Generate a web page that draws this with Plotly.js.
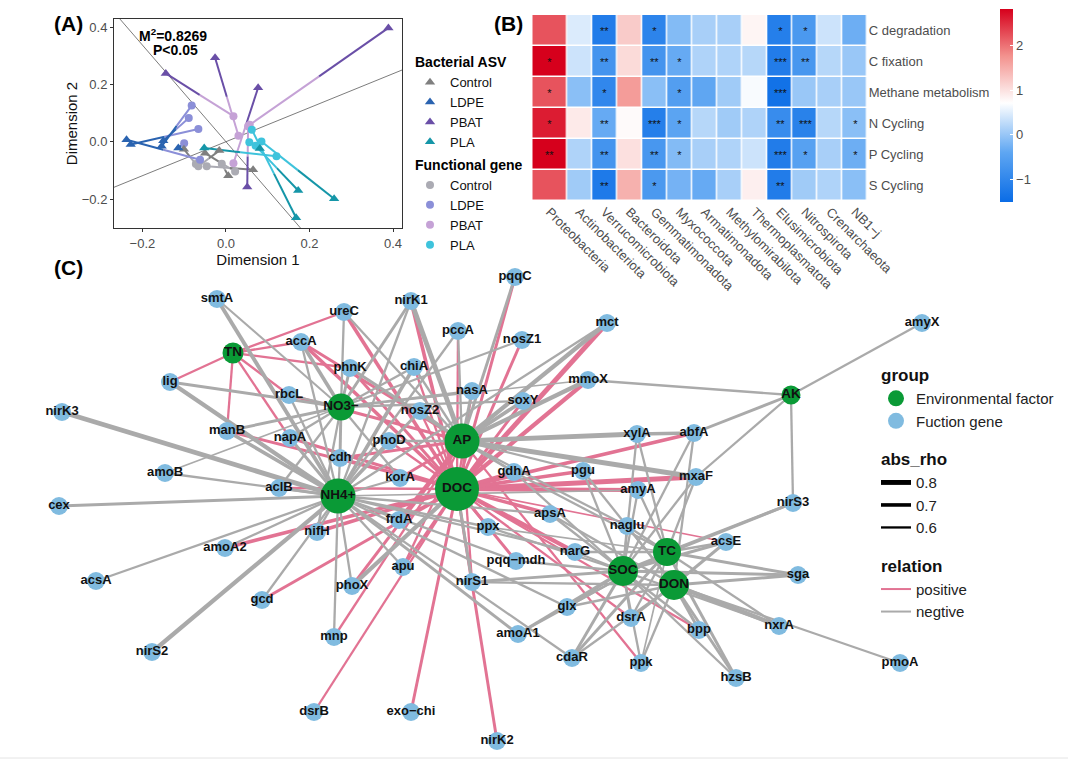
<!DOCTYPE html>
<html><head><meta charset="utf-8">
<script src="https://cdn.plot.ly/plotly-3.0.1.min.js"></script>
<style>html,body{margin:0;padding:0;background:#fff}#chart{width:1068px;height:760px}</style>
</head><body><div id="chart"></div>
<script>
// ================= Panel A : Procrustes data =================
const treatments = ['Control', 'LDPE', 'PBAT', 'PLA'];
// Bacterial ASV (triangles)
const controlAsvX = [-0.1006, -0.016, 0.0056, 0.065, -0.05];
const controlAsvY = [-0.026, -0.031, -0.119, -0.098, -0.040];
const ldpeAsvX = [-0.238, -0.228, -0.154, -0.150, -0.114];
const ldpeAsvY = [0.007, -0.010, -0.016, 0.003, -0.022];
const pbatAsvX = [0.389, -0.144, -0.026, 0.077, 0.051];
const pbatAsvY = [0.397, 0.238, 0.293, 0.188, -0.158];
const plaAsvX = [-0.052, 0.081, 0.173, 0.259, 0.168];
const plaAsvY = [-0.022, -0.024, -0.170, -0.199, -0.265];
// Functional gene (circles)
const controlGeneX = [-0.072, -0.066, -0.010, -0.046, 0.022];
const controlGeneY = [-0.078, -0.086, -0.077, -0.086, -0.104];
const ldpeGeneX = [-0.062, -0.066, -0.082, -0.089, -0.100];
const ldpeGeneY = [-0.063, 0.044, 0.126, 0.083, -0.005];
const pbatGeneX = [0.057, 0.018, 0.030, 0.018, 0.053];
const pbatGeneY = [0.059, 0.089, 0.021, -0.075, 0.054];
const plaGeneX = [0.121, 0.056, 0.071, 0.085, 0.062];
const plaGeneY = [-0.051, -0.002, -0.014, 0.001, 0.042];
const rotationSlopes = [-1.686, 0.593];
const m2Text = 'M<sup>2</sup>=0.8269';
const pText = 'P&lt;0.05';

// ================= Panel B : heatmap data =================
const phyla = ['Proteobacteria', 'Actinobacteriota', 'Verrucomicrobiota', 'Bacteroidota', 'Gemmatimonadota',
  'Myxococcota', 'Armatimonadota', 'Methylomirabilota', 'Thermoplasmatota', 'Elusimicrobiota',
  'Nitrospirota', 'Crenarchaeota', 'NB1−j'];
const functionsList = ['C degradation', 'C fixation', 'Methane metabolism', 'N Cycling', 'P Cycling', 'S Cycling'];
const cDegradation = [2.2, 0.45, -1.2, 1.2, -1.05, -0.15, 0.1, 0.1, 0.8, -1.15, -0.65, 0.35, -0.3];
const cFixation = [2.8, 0.35, -0.75, 1.05, -0.75, -0.35, 0.15, 0.15, 0.2, -1.2, -0.7, 0.2, 0.0];
const methaneMetabolism = [2.2, -0.1, -1.0, 1.65, -0.1, -0.55, -0.4, 0.05, 0.65, -1.4, 0.0, 0.1, 0.0];
const nCycling = [2.6, 0.9, -0.35, 0.75, -1.15, -0.45, 0.2, 0.05, 0.15, -0.9, -1.1, 0.2, -0.1];
const pCycling = [2.8, 0.15, -0.75, 1.0, -0.7, -0.15, 0.1, 0.15, 0.35, -1.2, -0.5, 0.1, -0.3];
const sCycling = [2.2, 0.05, -1.25, 1.45, -0.65, -0.25, -0.35, 0.1, 0.85, -1.2, 0.05, 0.15, -0.1];
const starsCDeg = ['', '', '**', '', '*', '', '', '', '', '*', '*', '', ''];
const starsCFix = ['*', '', '**', '', '**', '*', '', '', '', '***', '**', '', ''];
const starsMeth = ['*', '', '*', '', '', '*', '', '', '', '***', '', '', ''];
const starsN = ['*', '', '**', '', '***', '*', '', '', '', '**', '***', '', '*'];
const starsP = ['**', '', '**', '', '**', '*', '', '', '', '***', '*', '', '*'];
const starsS = ['', '', '**', '', '*', '', '', '', '', '**', '', '', ''];
const colorTicks = [-1, 0, 1, 2];

// ================= Panel C : network data =================
const envNames = ['TN', 'NO3−', 'AP', 'DOC', 'NH4+', 'AK', 'SOC', 'TC', 'DON'];
const envLayoutX = [233, 341, 462, 457, 338, 791, 623, 667, 674];
const envLayoutY = [353, 407, 441, 489, 496, 395, 571, 552, 585];
const geneNames = ['smtA', 'ureC', 'nirK1', 'pqqC', 'pccA', 'nosZ1', 'mct', 'amyX', 'accA', 'lig', 'phnK', 'chiA',
  'nasA', 'mmoX', 'soxY', 'nirK3', 'rbcL', 'nosZ2', 'manB', 'napA', 'phoD', 'xylA', 'abfA', 'cdh', 'korA',
  'gdhA', 'pgu', 'mxaF', 'amoB', 'aclB', 'amyA', 'nirS3', 'cex', 'frdA', 'ppx', 'apsA', 'naglu', 'nifH',
  'acsE', 'pqq−mdh', 'narG', 'amoA2', 'apu', 'nirS1', 'sga', 'acsA', 'gcd', 'phoX', 'glx', 'dsrA', 'bpp',
  'nxrA', 'amoA1', 'mnp', 'cdaR', 'ppk', 'nirS2', 'hzsB', 'pmoA', 'dsrB', 'exo−chi', 'nirK2'];
const geneLayoutX = [217, 344, 411, 515, 458, 522, 607, 922, 301, 170, 350, 414,
  472, 588, 523, 62, 289, 420, 227, 290, 389, 637, 694, 340, 400,
  514, 583, 696, 165, 279, 638, 793, 59, 399, 488, 550, 627, 317,
  726, 516, 575, 225, 403, 472, 798, 96, 262, 352, 567, 631, 699,
  779, 518, 334, 572, 641, 152, 736, 900, 314, 411, 497];
const geneLayoutY = [299, 312, 301, 277, 331, 340, 323, 323, 342, 382, 368, 367,
  391, 380, 401, 412, 395, 411, 431, 438, 441, 434, 433, 458, 478,
  472, 471, 477, 473, 488, 490, 503, 506, 520, 527, 514, 526, 532,
  542, 561, 552, 548, 567, 582, 575, 581, 600, 586, 607, 618, 630,
  626, 634, 637, 658, 663, 652, 678, 663, 712, 712, 741];

const edgeList = [
  ['TN','ureC',0.6],['TN','accA',0.6],['TN','lig',0.6],['TN','manB',0.6],['TN','phnK',0.6],['TN','rbcL',0.6],['TN','napA',0.6],
  ['smtA','NO3−',-0.58],['smtA','NH4+',-0.72],
  ['ureC','NO3−',-0.6],['ureC','DOC',0.7],['ureC','AP',-0.6],
  ['nirK1','NO3−',-0.65],['nirK1','NH4+',-0.6],['nirK1','AP',-0.8],['nirK1','DOC',0.7],
  ['pqqC','AP',-0.65],['pqqC','DOC',0.65],
  ['pccA','NH4+',-0.6],['pccA','DOC',0.6],['pccA','AP',-0.6],
  ['nosZ1','DOC',0.65],['nosZ1','NO3−',-0.58],
  ['mct','AP',-0.75],['mct','DOC',0.8],['mct','NH4+',-0.6],
  ['amyX','AK',-0.6],
  ['accA','NO3−',-0.7],['accA','NH4+',-0.6],['accA','DOC',0.7],['accA','AP',0.65],
  ['lig','NO3−',-0.65],['lig','NH4+',-0.75],
  ['phnK','NO3−',-0.65],['phnK','AP',-0.65],['phnK','DOC',0.65],
  ['chiA','NO3−',-0.6],['chiA','NH4+',-0.7],['chiA','DOC',0.6],['chiA','AP',-0.6],
  ['nasA','AP',-0.65],['nasA','NO3−',-0.6],['nasA','DOC',0.6],
  ['mmoX','AK',-0.6],['mmoX','AP',-0.75],['mmoX','DOC',0.75],['mmoX','NO3−',-0.55],
  ['soxY','AP',-0.7],['soxY','NO3−',-0.6],['soxY','DOC',0.65],
  ['nirK3','NH4+',-0.8],
  ['rbcL','NO3−',-0.6],['rbcL','AP',0.65],['rbcL','NH4+',-0.6],
  ['nosZ2','NH4+',-0.65],['nosZ2','AP',-0.6],['nosZ2','DOC',0.6],
  ['manB','NO3−',-0.65],['manB','NH4+',-0.7],['manB','DOC',0.65],
  ['napA','NO3−',-0.6],['napA','NH4+',-0.65],['napA','DOC',0.65],
  ['phoD','AP',-0.6],['phoD','NH4+',-0.65],['phoD','DOC',0.6],
  ['xylA','AP',-0.8],['xylA','abfA',-0.7],['xylA','SOC',-0.6],['xylA','TC',-0.6],
  ['abfA','DOC',0.7],['abfA','AK',-0.65],['abfA','SOC',-0.6],['abfA','DON',-0.6],
  ['cdh','NO3−',-0.65],['cdh','NH4+',-0.6],['cdh','AP',0.65],['cdh','DOC',0.6],
  ['korA','NO3−',-0.6],['korA','AP',0.65],['korA','NH4+',-0.6],
  ['gdhA','AP',-0.65],['gdhA','DOC',0.7],['gdhA','SOC',-0.6],['gdhA','TC',-0.6],
  ['pgu','AP',-0.6],['pgu','DOC',0.7],['pgu','SOC',-0.6],['pgu','DON',-0.6],
  ['mxaF','AP',-0.8],['mxaF','DOC',0.8],['mxaF','AK',-0.6],['mxaF','SOC',-0.6],['mxaF','TC',-0.6],
  ['amoB','NO3−',-0.55],['amoB','NH4+',-0.6],
  ['aclB','NO3−',-0.6],['aclB','NH4+',-0.65],['aclB','DOC',0.6],
  ['amyA','DOC',0.75],['amyA','SOC',-0.6],['amyA','TC',-0.6],['amyA','NH4+',-0.55],
  ['nirS3','AK',-0.6],['nirS3','SOC',-0.65],['nirS3','TC',-0.65],
  ['cex','NH4+',-0.65],
  ['frdA','NH4+',-0.6],['frdA','AP',0.7],['frdA','DOC',0.65],
  ['ppx','DOC',0.65],['ppx','NH4+',-0.6],['ppx','SOC',-0.6],['ppx','TC',-0.55],
  ['apsA','DOC',0.7],['apsA','NH4+',-0.6],['apsA','SOC',-0.6],['apsA','DON',-0.6],
  ['naglu','SOC',-0.6],['naglu','TC',-0.6],['naglu','DON',-0.6],['naglu','AP',-0.6],
  ['nifH','NH4+',-0.6],['nifH','DOC',0.7],['nifH','NO3−',-0.6],
  ['acsE','SOC',-0.65],['acsE','TC',-0.6],['acsE','DON',-0.65],['acsE','DOC',0.55],
  ['pqq−mdh','DOC',0.65],['pqq−mdh','NH4+',-0.6],['pqq−mdh','SOC',-0.6],
  ['narG','DOC',0.75],['narG','SOC',-0.6],['narG','TC',-0.6],['narG','NH4+',-0.6],
  ['amoA2','NH4+',-0.6],['amoA2','DOC',0.7],
  ['apu','NH4+',-0.6],['apu','DOC',0.65],['apu','AP',0.6],
  ['nirS1','DOC',-0.65],['nirS1','SOC',-0.65],['nirS1','DON',-0.6],['nirS1','AP',0.6],
  ['sga','SOC',-0.65],['sga','TC',-0.65],['sga','DON',-0.65],
  ['acsA','NH4+',-0.6],
  ['gcd','NH4+',-0.6],['gcd','DOC',0.65],
  ['phoX','NH4+',-0.6],['phoX','DOC',-0.75],['phoX','AP',0.65],
  ['glx','SOC',-0.65],['glx','TC',-0.6],['glx','DON',-0.6],['glx','NH4+',-0.6],
  ['dsrA','SOC',-0.6],['dsrA','TC',-0.6],['dsrA','DON',-0.6],['dsrA','DOC',0.6],
  ['bpp','SOC',-0.6],['bpp','DON',-0.65],['bpp','DOC',0.6],
  ['nxrA','SOC',-0.6],['nxrA','TC',-0.6],['nxrA','DON',-0.75],
  ['pmoA','DON',-0.6],
  ['amoA1','NH4+',-0.65],['amoA1','SOC',-0.65],['amoA1','TC',-0.6],
  ['mnp','NH4+',-0.6],['mnp','AP',0.6],
  ['cdaR','SOC',-0.65],['cdaR','TC',-0.65],['cdaR','DON',-0.6],['cdaR','NH4+',-0.6],
  ['ppk','SOC',-0.6],['ppk','DON',-0.6],['ppk','TC',-0.55],['ppk','AP',0.6],
  ['nirS2','NH4+',-0.75],
  ['hzsB','SOC',-0.6],['hzsB','DON',-0.65],['hzsB','TC',-0.65],
  ['dsrB','DOC',0.6],['exo−chi','DOC',0.65],['nirK2','DOC',0.65]
];
const edgeSource = edgeList.map(e => e[0]);
const edgeTarget = edgeList.map(e => e[1]);
const edgeRho = edgeList.map(e => e[2]);
const rhoBreaks = [0.8, 0.7, 0.6];

// ================= styles =================
const FONT = 'Arial, "Liberation Sans", Helvetica, sans-serif';
const W = 1068, H = 760;
const px = v => v / W, py = v => 1 - v / H;
const triColors = ['#7f7f7f', '#2a63b0', '#6a4fa7', '#1596a8'];
const cirColors = ['#ababb3', '#8b8fd8', '#c5a2d6', '#3ec3dc'];
const POS = '#e27393', NEG = '#aaaaaa', GREEN = '#0a9a36', BLUE = '#80bbe0';
const rhoWidth = a => 1 + (a - 0.5) * 13;
const envSize = [21, 27, 35, 44, 35, 19, 30, 28, 30];
const geneSize = 18;

const traces = [];

// ---- Panel A ----
const asvX = [controlAsvX, ldpeAsvX, pbatAsvX, plaAsvX];
const asvY = [controlAsvY, ldpeAsvY, pbatAsvY, plaAsvY];
const genX = [controlGeneX, ldpeGeneX, pbatGeneX, plaGeneX];
const genY = [controlGeneY, ldpeGeneY, pbatGeneY, plaGeneY];

const lineX = [-0.4, 0.5];
rotationSlopes.forEach(s => {
  traces.push({x: lineX, y: lineX.map(v => v * s), mode: 'lines', xaxis: 'x', yaxis: 'y',
    line: {color: '#5a5a5a', width: 0.8}, showlegend: false, hoverinfo: 'skip'});
});
treatments.forEach((t, g) => {
  const lx = [], ly = [], dx = [], dy = [];
  asvX[g].forEach((ax, i) => {
    const ay = asvY[g][i], gx = genX[g][i], gy = genY[g][i];
    const mx = (ax + gx) / 2, my = (ay + gy) / 2;
    lx.push(gx, mx, null); ly.push(gy, my, null);
    dx.push(mx, ax, null); dy.push(my, ay, null);
  });
  traces.push({x: lx, y: ly, mode: 'lines', xaxis: 'x', yaxis: 'y', line: {color: cirColors[g], width: 2},
    showlegend: false, hoverinfo: 'skip'});
  traces.push({x: dx, y: dy, mode: 'lines', xaxis: 'x', yaxis: 'y', line: {color: triColors[g], width: 2},
    showlegend: false, hoverinfo: 'skip'});
});
treatments.forEach((t, g) => {
  traces.push({x: genX[g], y: genY[g], mode: 'markers', xaxis: 'x', yaxis: 'y', name: t,
    marker: {symbol: 'circle', size: 8, color: cirColors[g], opacity: 1, line: {width: 0}},
    legend: 'legend', legendgroup: 'gene', legendrank: 200 + g,
    legendgrouptitle: {text: 'Functional gene', font: {size: 14, weight: 700, color: '#000', family: FONT}}});
});
treatments.forEach((t, g) => {
  traces.push({x: asvX[g], y: asvY[g], mode: 'markers', xaxis: 'x', yaxis: 'y', name: t,
    marker: {symbol: 'triangle-up', size: 9, color: triColors[g], opacity: 1, line: {width: 0}},
    legend: 'legend', legendgroup: 'asv', legendrank: 100 + g,
    legendgrouptitle: {text: 'Bacterial ASV', font: {size: 14, weight: 700, color: '#000', family: FONT}}});
});

// ---- Panel B ----
const firstColWidth = 1.38;
const colEdges = [0];
phyla.forEach((p, i) => colEdges.push(colEdges[i] + (i === 0 ? firstColWidth : 1)));
const colCenters = phyla.map((p, i) => (colEdges[i] + colEdges[i + 1]) / 2);
const zRows = [cDegradation, cFixation, methaneMetabolism, nCycling, pCycling, sCycling];
const starRows = [starsCDeg, starsCFix, starsMeth, starsN, starsP, starsS];
const zMin = -1.51, zMax = 2.8, zMid = 0.7;
const midT = (zMid - zMin) / (zMax - zMin);
traces.push({
  type: 'heatmap', x: colEdges, y: functionsList, z: zRows, text: starRows,
  texttemplate: '%{text}', textfont: {size: 11, color: '#111', family: FONT},
  xaxis: 'x2', yaxis: 'y2', zmin: zMin, zmax: zMax, xgap: 1.5, ygap: 1.5,
  colorscale: [[0, '#0a6ce6'], [midT * 0.5, '#5ea6f2'], [midT, '#ffffff'], [midT + (1 - midT) * 0.5, '#f3928e'], [1, '#d6001c']],
  hoverinfo: 'skip',
  colorbar: {x: px(1000), xanchor: 'left', y: py(106), yanchor: 'middle', len: 193, lenmode: 'pixels',
    thickness: 13, outlinewidth: 0, xpad: 0, ypad: 0, tickvals: colorTicks, ticktext: colorTicks.map(v => v < 0 ? '−' + (-v) : String(v)),
    ticks: 'inside', ticklen: 3, tickcolor: '#ffffff', tickfont: {size: 13, color: '#4d4d4d', family: FONT}}
});

// ---- Panel C ----
const nodePos = {};
envNames.forEach((n, i) => nodePos[n] = [envLayoutX[i], envLayoutY[i]]);
geneNames.forEach((n, i) => nodePos[n] = [geneLayoutX[i], geneLayoutY[i]]);
const buckets = {};
edgeSource.forEach((s, i) => {
  const r = edgeRho[i];
  const key = (r > 0 ? 'p' : 'n') + Math.abs(r).toFixed(2);
  if (!buckets[key]) buckets[key] = {x: [], y: [], pos: r > 0, a: Math.abs(r)};
  const a = nodePos[s], b = nodePos[edgeTarget[i]];
  buckets[key].x.push(a[0], b[0], null);
  buckets[key].y.push(a[1], b[1], null);
});
Object.keys(buckets).sort().reverse().forEach(k => {  // 'n' keys first (gray under pink)
  const bk = buckets[k];
  traces.push({x: bk.x, y: bk.y, mode: 'lines', xaxis: 'x3', yaxis: 'y3', showlegend: false, hoverinfo: 'skip',
    line: {color: bk.pos ? POS : NEG, width: rhoWidth(bk.a)}});
});
traces.push({x: envLayoutX, y: envLayoutY, mode: 'markers', xaxis: 'x3', yaxis: 'y3', name: 'Environmental factor',
  marker: {size: envSize, color: GREEN, opacity: 1, line: {width: 0}}, legend: 'legend2', legendgroup: 'group',
  legendgrouptitle: {text: 'group', font: {size: 17, weight: 700, color: '#111', family: FONT}}});
traces.push({x: geneLayoutX, y: geneLayoutY, mode: 'markers', xaxis: 'x3', yaxis: 'y3', name: 'Fuction gene',
  marker: {size: geneSize, color: BLUE, opacity: 1, line: {width: 0}}, legend: 'legend2', legendgroup: 'group'});
traces.push({x: geneLayoutX, y: geneLayoutY, text: geneNames,
  mode: 'text', xaxis: 'x3', yaxis: 'y3', showlegend: false, hoverinfo: 'skip',
  textfont: {size: 13, color: '#111', family: FONT, weight: 700}, textposition: 'middle center'});
traces.push({x: envLayoutX, y: envLayoutY, text: envNames,
  mode: 'text', xaxis: 'x3', yaxis: 'y3', showlegend: false, hoverinfo: 'skip',
  textfont: {size: 13.5, color: '#111', family: FONT, weight: 700}, textposition: 'middle center'});
rhoBreaks.forEach(r => {
  traces.push({x: [null], y: [null], mode: 'lines', xaxis: 'x3', yaxis: 'y3', name: r.toFixed(1),
    line: {color: '#000', width: rhoWidth(r)}, legend: 'legend2', legendgroup: 'rho',
    legendgrouptitle: {text: 'abs_rho', font: {size: 17, weight: 700, color: '#111', family: FONT}}});
});
[['positive', POS], ['negtive', NEG]].forEach(([n, c]) => {
  traces.push({x: [null], y: [null], mode: 'lines', xaxis: 'x3', yaxis: 'y3', name: n,
    line: {color: c, width: 2}, legend: 'legend2', legendgroup: 'relation',
    legendgrouptitle: {text: 'relation', font: {size: 17, weight: 700, color: '#111', family: FONT}}});
});

const tickFont = {size: 13, color: '#4d4d4d', family: FONT};
const layout = {
  width: W, height: H, margin: {l: 0, r: 0, t: 0, b: 0},
  paper_bgcolor: '#ffffff', plot_bgcolor: 'rgba(0,0,0,0)',
  font: {family: FONT, color: '#111'},
  xaxis: {domain: [px(114), px(402)], range: [-0.268, 0.4215], tickvals: [-0.2, 0, 0.2, 0.4],
    ticktext: ['−0.2', '0.0', '0.2', '0.4'], ticks: 'outside', ticklen: 3, tickcolor: '#333',
    showline: true, mirror: true, linecolor: '#333', linewidth: 1, showgrid: false, zeroline: false,
    tickfont: tickFont, title: {text: 'Dimension 1', font: {size: 15, color: '#111'}, standoff: 0}},
  yaxis: {domain: [py(228), py(19)], range: [-0.301, 0.428], tickvals: [-0.2, 0, 0.2, 0.4],
    ticktext: ['−0.2', '0.0', '0.2', '0.4'], ticks: 'outside', ticklen: 3, tickcolor: '#333',
    showline: true, mirror: true, linecolor: '#333', linewidth: 1, showgrid: false, zeroline: false,
    tickfont: tickFont, title: {text: 'Dimension 2', font: {size: 15, color: '#111'}, standoff: 0}},
  xaxis2: {domain: [px(532.3), px(867.7)], range: [0, colEdges[colEdges.length - 1]], anchor: 'y2',
    tickvals: colCenters, ticktext: phyla, tickangle: 45, ticks: '', showgrid: false, zeroline: false,
    showline: false, tickfont: tickFont},
  yaxis2: {domain: [py(201), py(15)], anchor: 'x2', side: 'right', autorange: 'reversed', ticks: '',
    showgrid: false, zeroline: false, showline: false, tickfont: tickFont, type: 'category'},
  xaxis3: {domain: [0, 1], range: [0, W], visible: false, anchor: 'y3'},
  yaxis3: {domain: [0, 1], range: [H, 0], visible: false, anchor: 'x3'},
  legend: {x: px(410), xanchor: 'left', y: py(46), yanchor: 'top', bgcolor: 'rgba(0,0,0,0)',
    font: {size: 13, color: '#111', family: FONT}, tracegroupgap: 2, itemwidth: 30, traceorder: 'grouped'},
  legend2: {x: px(876), xanchor: 'left', y: py(357), yanchor: 'top', bgcolor: 'rgba(0,0,0,0)',
    font: {size: 15, color: '#222', family: FONT}, tracegroupgap: 14, itemwidth: 30, traceorder: 'grouped'},
  shapes: [{type: 'line', xref: 'paper', yref: 'paper', x0: 0, x1: 1, y0: py(758), y1: py(758),
    line: {color: '#e4e4e4', width: 1}}],
  annotations: [
    {text: '<b>(A)</b>', x: px(52), y: py(23), xref: 'paper', yref: 'paper', xanchor: 'left', yanchor: 'middle', showarrow: false, font: {size: 21, color: '#000'}},
    {text: '<b>(B)</b>', x: px(492), y: py(23), xref: 'paper', yref: 'paper', xanchor: 'left', yanchor: 'middle', showarrow: false, font: {size: 21, color: '#000'}},
    {text: '<b>(C)</b>', x: px(52), y: py(267), xref: 'paper', yref: 'paper', xanchor: 'left', yanchor: 'middle', showarrow: false, font: {size: 21, color: '#000'}},
    {text: '<b>' + m2Text + '</b>', x: px(173), y: py(35), xref: 'paper', yref: 'paper', xanchor: 'center', yanchor: 'middle', showarrow: false, font: {size: 14, color: '#000'}},
    {text: '<b>' + pText + '</b>', x: px(176), y: py(50), xref: 'paper', yref: 'paper', xanchor: 'center', yanchor: 'middle', showarrow: false, font: {size: 14, color: '#000'}}
  ]
};
Plotly.newPlot('chart', traces, layout, {displayModeBar: false, staticPlot: true});
</script></body></html>
